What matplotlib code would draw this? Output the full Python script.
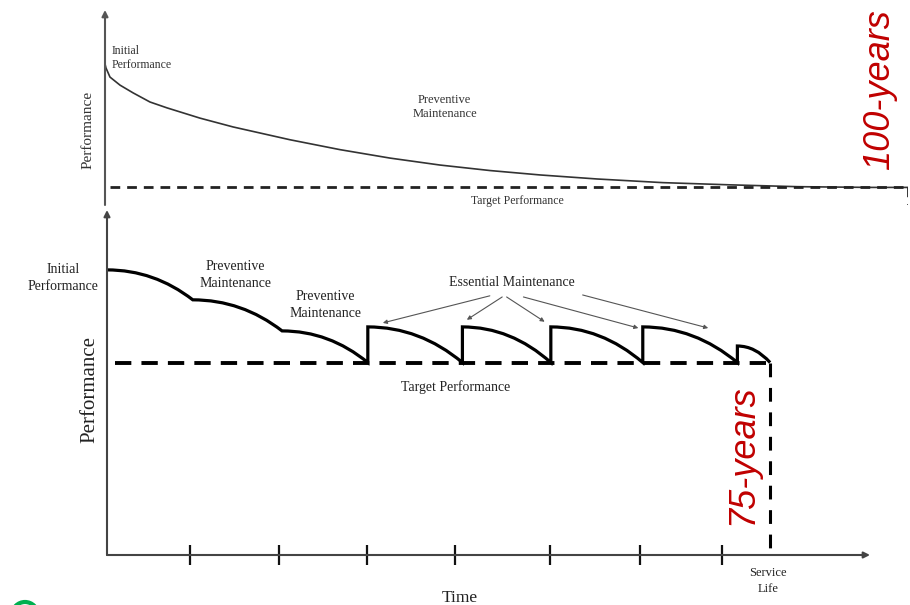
import numpy as np
import matplotlib
matplotlib.use("Agg")
import matplotlib.pyplot as plt
from matplotlib.path import Path
from matplotlib.patches import PathPatch, Ellipse

# --- top panel: 100-year life with preventive maintenance only ---
top_years = [0, 0.12, 0.62, 1.87, 3.49, 5.6, 7.72, 11.83, 15.94, 23.04, 29.27,
             35.49, 41.72, 47.95, 54.17, 61.27, 69.49, 77.83, 86.18, 95.27, 100]
top_perf = [100.3, 99.2, 96.7, 94.5, 92.4, 89.9, 88.3, 85.5, 83.1, 79.6, 76.9,
            74.6, 72.7, 71.2, 70.0, 68.9, 67.9, 67.3, 66.8, 66.6, 66.6]
top_target = 66.6
top_life = 100

# --- bottom panel: 75-year life with preventive + essential maintenance ---
seg_years = [0, 9.7, 19.8, 29.5, 40.2, 50.2, 60.6, 71.3, 75.0]
seg_start = [100, 89.5, 78.6, 80, 80, 80, 80, 73.3]
seg_end = [89.5, 78.6, 67.5, 67.5, 67.5, 67.5, 67.5, 67.5]
target = 67.5
service_life = 75.0
tick_years = [9.4, 19.5, 29.4, 39.4, 50.1, 60.3, 69.6]

# essential maintenance arrows: (tail, head)
arrow_tails = [(43.3, 90.9), (44.7, 90.5), (45.2, 90.5), (47.1, 90.5), (53.8, 91.2)]
arrow_heads = [(31.2, 81.4), (40.7, 82.5), (49.5, 81.8), (60.1, 79.6), (68.0, 79.6)]

SERIF = "Liberation Serif"
RED = "#c00000"
W, H = 910, 605

fig = plt.figure(figsize=(9.1, 6.05), dpi=100)

def axis_arrow(ax, start, end, color="#444444"):
    ax.annotate("", xy=end, xytext=start, xycoords="axes fraction",
                textcoords="axes fraction",
                arrowprops=dict(arrowstyle="-|>", color=color, lw=1.5,
                                shrinkA=0, shrinkB=0, mutation_scale=9))

# top axes
ax1 = fig.add_axes([105 / W, (H - 205) / H, (908 - 105) / W, (205 - 10) / H])
ax1.set_xlim(0, 100)
ax1.set_ylim(61.8, 115)
for s in ax1.spines.values():
    s.set_visible(False)
ax1.set_xticks([])
ax1.set_yticks([])
axis_arrow(ax1, (0, 0), (0, 1), color="#555555")
ax1.plot(top_years, top_perf, color="#333333", lw=1.2, solid_capstyle="round",
         solid_joinstyle="round")
ax1.plot([0.6, top_life], [top_target, top_target], color="#222222", lw=2,
         dashes=(3.5, 2.5))
ax1.plot([top_life, top_life], [top_target, 61.8], color="#222222", lw=2,
         dashes=(3.5, 2.5))
ax1.text(0.87, 101.9, "Initial\nPerformance", family=SERIF, size=8.5,
         color="#333333", ha="left", va="center", linespacing=1.25)
ax1.text(42.3, 88.5, "Preventive\nMaintenance", family=SERIF, size=9,
         color="#333333", ha="center", va="center", linespacing=1.25)
ax1.text(51.4, 62.9, "Target Performance", family=SERIF, size=8.5,
         color="#333333", ha="center", va="center")
ax1.text(-2.1, 82.3, "Performance", family=SERIF, size=11, color="#333333",
         rotation=90, ha="center", va="center")
ax1.text(96.5, 93.2, "100-years", family="Liberation Sans", style="italic",
         size=26, color=RED, rotation=90, ha="center", va="center")

# bottom axes
ax2 = fig.add_axes([107 / W, 50 / H, (870 - 107) / W, (555 - 210) / H])
ax2.set_xlim(0, 86.3)
ax2.set_ylim(0, 121)
for s in ax2.spines.values():
    s.set_visible(False)
ax2.set_yticks([])
ax2.set_xticks(tick_years)
ax2.tick_params(axis="x", direction="inout", length=15, width=1.6,
                color="#111111", labelbottom=False)
axis_arrow(ax2, (0, 0), (0, 1))
axis_arrow(ax2, (0, 0), (1, 0))

verts = [(seg_years[0], seg_start[0])]
codes = [Path.MOVETO]
for i in range(len(seg_start)):
    t0, t1 = seg_years[i], seg_years[i + 1]
    p0, p1 = seg_start[i], seg_end[i]
    if i > 0 and p0 != seg_end[i - 1]:
        verts.append((t0, p0))
        codes.append(Path.LINETO)
    verts += [(t0 + 0.55 * (t1 - t0), p0), (t1, p1)]
    codes += [Path.CURVE3, Path.CURVE3]
ax2.add_patch(PathPatch(Path(verts, codes), fill=False, ec="black", lw=2.3,
                        joinstyle="miter"))

ax2.plot([0.9, service_life], [target, target], color="black", lw=2.8,
         dashes=(4.2, 2.6))
ax2.plot([service_life, service_life], [target, 0], color="black", lw=2.2,
         dashes=(4.5, 3.5))

for tail, head in zip(arrow_tails, arrow_heads):
    ax2.annotate("", xy=head, xytext=tail,
                 arrowprops=dict(arrowstyle="-|>", color="#555555", lw=0.8,
                                 shrinkA=0, shrinkB=0, mutation_scale=6))

ax2.text(-5.0, 97.2, "Initial\nPerformance", family=SERIF, size=10,
         color="#222222", ha="center", va="center", linespacing=1.4)
ax2.text(14.5, 98.2, "Preventive\nMaintenance", family=SERIF, size=10,
         color="#222222", ha="center", va="center", linespacing=1.4)
ax2.text(24.7, 87.7, "Preventive\nMaintenance", family=SERIF, size=10,
         color="#222222", ha="center", va="center", linespacing=1.4)
ax2.text(45.8, 95.4, "Essential Maintenance", family=SERIF, size=10,
         color="#222222", ha="center", va="center")
ax2.text(39.4, 58.9, "Target Performance", family=SERIF, size=10,
         color="#222222", ha="center", va="center")
ax2.text(74.8, -9.1, "Service\nLife", family=SERIF, size=9,
         color="#222222", ha="center", va="center", linespacing=1.4)
ax2.text(39.9, -15.1, "Time", family=SERIF, size=12.5, color="#222222",
         ha="center", va="center")
ax2.text(-1.9, 57.9, "Performance", family=SERIF, size=15, color="#222222",
         rotation=90, ha="center", va="center")
ax2.text(71.9, 35.1, "75-years", family="Liberation Sans", style="italic",
         size=26, color=RED, rotation=90, ha="center", va="center")

# clipped green logo fragment at the bottom-left edge
fig.patches.append(Ellipse((25 / W, -10 / H), 26 / W, 26 / H, fill=False,
                           ec="#00b050", lw=3, transform=fig.transFigure))

fig.savefig("out.png", dpi=100)
